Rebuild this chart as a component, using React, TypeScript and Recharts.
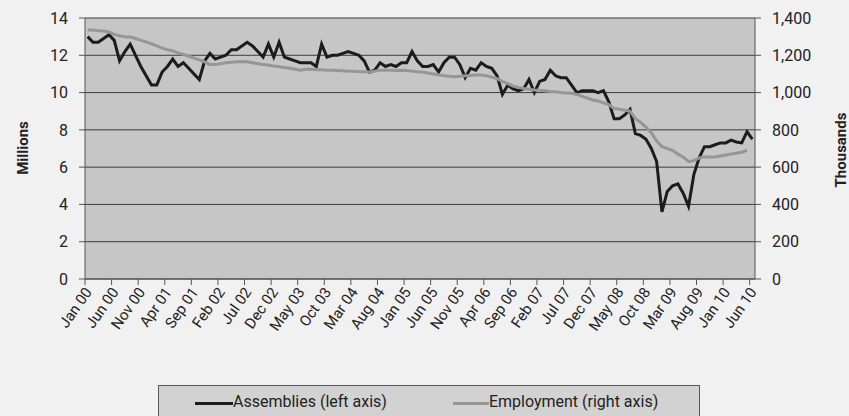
import { LineChart, Line, XAxis, YAxis, CartesianGrid } from "recharts";

const monthNames = ["Jan", "Feb", "Mar", "Apr", "May", "Jun", "Jul", "Aug", "Sep", "Oct", "Nov", "Dec"];

// Jan 00 .. Jun 10
const months: string[] = [];
for (let y = 0; y <= 10; y++) {
  for (let m = 0; m < 12; m++) {
    if (y === 10 && m > 5) break;
    months.push(`${monthNames[m]} ${String(y).padStart(2, "0")}`);
  }
}

// millions of units (left axis)
const assemblies = [
  13.0, 12.7, 12.7, 12.9, 13.1, 12.8, 11.7, 12.2, 12.6, 12.0,
  11.4, 10.9, 10.4, 10.4, 11.1, 11.4, 11.8, 11.4, 11.6, 11.3,
  11.0, 10.7, 11.7, 12.1, 11.8, 11.9, 12.0, 12.3, 12.3, 12.5,
  12.7, 12.5, 12.2, 11.9, 12.6, 11.9, 12.7, 11.9, 11.8, 11.7,
  11.6, 11.6, 11.6, 11.4, 12.6, 11.9, 12.0, 12.0, 12.1, 12.2,
  12.1, 12.0, 11.7, 11.1, 11.2, 11.6, 11.4, 11.5, 11.4, 11.6,
  11.6, 12.2, 11.7, 11.4, 11.4, 11.5, 11.1, 11.6, 11.9, 11.9,
  11.5, 10.8, 11.3, 11.2, 11.6, 11.4, 11.3, 10.9, 9.9, 10.4,
  10.2, 10.1, 10.2, 10.7, 10.0, 10.6, 10.7, 11.2, 10.9, 10.8,
  10.8, 10.4, 10.0, 10.1, 10.1, 10.1, 10.0, 10.1, 9.5, 8.6,
  8.6, 8.8, 9.1, 7.8, 7.7, 7.5, 7.0, 6.3, 3.6, 4.7,
  5.0, 5.1, 4.6, 3.9, 5.6, 6.5, 7.1, 7.1, 7.2, 7.3,
  7.3, 7.45, 7.35, 7.3, 7.9, 7.5,
];

// thousands of jobs (right axis)
const employment: (number | null)[] = [
  1335, 1335, 1332, 1330, 1325, 1312, 1305, 1300, 1298, 1290,
  1280, 1272, 1262, 1250, 1238, 1230, 1224, 1212, 1205, 1195,
  1185, 1175, 1165, 1150, 1150, 1155, 1160, 1162, 1165, 1166,
  1165, 1160, 1155, 1150, 1148, 1142, 1139, 1135, 1130, 1125,
  1120, 1125, 1125, 1123, 1122, 1120, 1120, 1118, 1117, 1115,
  1115, 1113, 1112, 1110, 1115, 1120, 1120, 1120, 1118, 1120,
  1118, 1115, 1112, 1110, 1105, 1100, 1095, 1090, 1088, 1085,
  1088, 1090, 1092, 1094, 1094, 1090, 1082, 1075, 1060, 1048,
  1035, 1028, 1022, 1018, 1014, 1012, 1010, 1006, 1005, 1000,
  998, 996, 990, 980, 970, 960, 955, 945, 935, 915,
  910, 905, 900, 860, 840, 815, 785, 740, 710, 700,
  690, 670, 655, 630, 635, 650, 655, 655, 655, 660,
  665, 670, 675, 680, 690, null,
];

const leftTicks = [0, 2, 4, 6, 8, 10, 12, 14];
const rightTicks = [0, 200, 400, 600, 800, 1000, 1200, 1400];

const data = months.map((month, i) => ({
  month,
  assemblies: assemblies[i],
  employment: employment[i],
}));

const FONT = "Roboto, 'Liberation Sans', sans-serif";
const HALF_STEP = 670 / months.length / 2;

const MonthTick = (props: any) => {
  const { x, y, payload } = props;
  const ax = x + 5;
  const ay = y + 13;
  return (
    <g>
      <line x1={x - HALF_STEP} x2={x - HALF_STEP} y1={y} y2={y + 6} stroke="#555" />
      <text
        x={ax}
        y={ay}
        transform={`rotate(-55 ${ax} ${ay})`}
        textAnchor="end"
        fontSize={15}
        fill="#222"
        fontFamily={FONT}
      >
        {payload.value}
      </text>
    </g>
  );
};

const leftTitle = () => (
  <text x={23} y={148} transform="rotate(-90 23 148)" textAnchor="middle" dominantBaseline="central"
    fontSize={15} fontWeight={700} fill="#222" fontFamily={FONT}>
    Millions
  </text>
);

const rightTitle = () => (
  <text x={841} y={150} transform="rotate(-90 841 150)" textAnchor="middle" dominantBaseline="central"
    fontSize={15} fontWeight={700} fill="#222" fontFamily={FONT}>
    Thousands
  </text>
);

export default function App() {
  return (
    <div style={{ position: "absolute", left: 0, top: 0, width: 849, height: 416, overflow: "hidden", background: "#f1f1f1", fontFamily: FONT }}>
      <LineChart width={849} height={416} data={data} margin={{ top: 18, right: 0, bottom: 0, left: 0 }}>
        <CartesianGrid yAxisId="left" vertical={false} fill="#c6c6c6" fillOpacity={1} stroke="#3c3c3c" />
        <XAxis
          dataKey="month"
          interval={4}
          padding={{ left: HALF_STEP, right: HALF_STEP }}
          height={137}
          tickLine={false}
          tickSize={0}
          tickMargin={0}
          axisLine={{ stroke: "#555" }}
          tick={<MonthTick />}
        />
        <YAxis
          yAxisId="left"
          width={85}
          domain={[0, 14]}
          ticks={leftTicks}
          interval={0}
          tickSize={6}
          tickMargin={11}
          axisLine={{ stroke: "#555" }}
          tickLine={{ stroke: "#555" }}
          tick={{ fontSize: 16, fill: "#222", fontFamily: FONT }}
          label={{ content: leftTitle }}
        />
        <YAxis
          yAxisId="right"
          orientation="right"
          width={94}
          domain={[0, 1400]}
          ticks={rightTicks}
          interval={0}
          tickSize={6}
          tickMargin={11}
          axisLine={{ stroke: "#555" }}
          tickLine={{ stroke: "#555" }}
          tickFormatter={(v: number) => v.toLocaleString("en-US")}
          tick={{ fontSize: 16, fill: "#222", fontFamily: FONT, textAnchor: "start" }}
          label={{ content: rightTitle }}
        />
        <Line yAxisId="left" type="linear" dataKey="assemblies" stroke="#1c1c1c" strokeWidth={3} dot={false} isAnimationActive={false} />
        <Line yAxisId="right" type="linear" dataKey="employment" stroke="#969696" strokeWidth={3} dot={false} isAnimationActive={false} connectNulls={false} />
      </LineChart>
      <div
        style={{
          position: "absolute",
          left: 158,
          top: 385,
          width: 542,
          height: 40,
          border: "1px solid #555",
          background: "#d2d2d2",
          boxSizing: "border-box",
          display: "flex",
          alignItems: "flex-start",
          paddingTop: 6,
          paddingLeft: 36,
          fontSize: 16,
          color: "#222",
        }}
      >
        <span style={{ display: "inline-block", width: 38, height: 3, background: "#1c1c1c", marginTop: 10 }} />
        <span>Assemblies (left axis)</span>
        <span style={{ display: "inline-block", width: 36, height: 3, background: "#969696", marginTop: 10, marginLeft: 66 }} />
        <span>Employment (right axis)</span>
      </div>
    </div>
  );
}
